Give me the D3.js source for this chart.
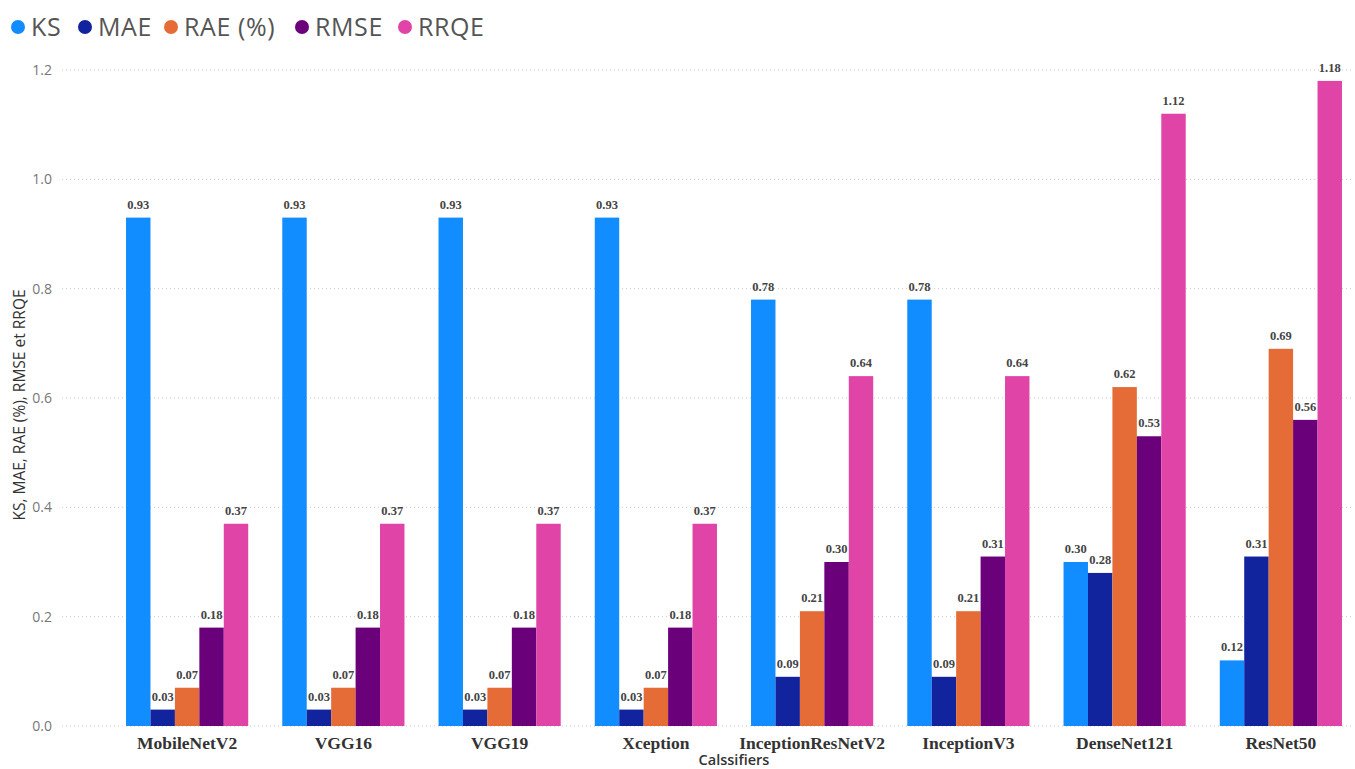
<!DOCTYPE html>
<html>
<head>
<meta charset="utf-8">
<script src="https://cdn.jsdelivr.net/npm/d3@7"></script>
<style>
  html, body { margin: 0; padding: 0; background: #fff; }
  svg { display: block; }
</style>
</head>
<body>
<svg id="chart" width="1355" height="769"></svg>
<script>
// Classifiers compared
const classifiers = ["MobileNetV2", "VGG16", "VGG19", "Xception", "InceptionResNetV2", "InceptionV3", "DenseNet121", "ResNet50"];

// Error metrics per classifier
const ks   = [0.93, 0.93, 0.93, 0.93, 0.78, 0.78, 0.30, 0.12];
const mae  = [0.03, 0.03, 0.03, 0.03, 0.09, 0.09, 0.28, 0.31];
const rae  = [0.07, 0.07, 0.07, 0.07, 0.21, 0.21, 0.62, 0.69];
const rmse = [0.18, 0.18, 0.18, 0.18, 0.30, 0.31, 0.53, 0.56];
const rrqe = [0.37, 0.37, 0.37, 0.37, 0.64, 0.64, 1.12, 1.18];

const seriesNames = ["KS", "MAE", "RAE (%)", "RMSE", "RRQE"];
const seriesColors = ["#118DFF", "#12239E", "#E66C37", "#6B007B", "#E044A7"];
const yTicks = [0.0, 0.2, 0.4, 0.6, 0.8, 1.0, 1.2];

const seriesValues = [ks, mae, rae, rmse, rrqe];

const svg = d3.select("#chart");
const margin = { left: 109, right: 1359, top: 70, bottom: 726 };

const x0 = d3.scaleBand()
  .domain(classifiers)
  .range([margin.left, margin.right])
  .paddingInner(0.218)
  .paddingOuter(0.109);

const x1 = d3.scaleBand()
  .domain(seriesNames)
  .range([0, x0.bandwidth()])
  .padding(0);

const y = d3.scaleLinear().domain([0, 1.2]).range([margin.bottom, margin.top]);

const color = d3.scaleOrdinal().domain(seriesNames).range(seriesColors);

// Gridlines
svg.append("g")
  .selectAll("line")
  .data(yTicks)
  .join("line")
  .attr("x1", 62)
  .attr("x2", 1352)
  .attr("y1", d => y(d))
  .attr("y2", d => y(d))
  .attr("stroke", "#c8c8c8")
  .attr("stroke-width", 1)
  .attr("stroke-dasharray", "1,3");

// Y axis tick labels
const yAxis = d3.axisLeft(y).tickValues(yTicks).tickFormat(d3.format(".1f")).tickSize(0).tickPadding(0);
const yg = svg.append("g").attr("transform", "translate(52,0)").call(yAxis);
yg.select(".domain").remove();
yg.selectAll("text")
  .attr("fill", "#777")
  .style("font-family", "'Open Sans', 'Noto Sans', sans-serif")
  .style("font-size", "14px");

// Y axis title
svg.append("text")
  .attr("transform", "translate(25,405) rotate(-90)")
  .attr("text-anchor", "middle")
  .attr("fill", "#333")
  .style("font-family", "'Open Sans', 'Noto Sans', sans-serif")
  .style("font-size", "15.5px")
  .text("KS, MAE, RAE (%), RMSE et RRQE");

// Bars
const groups = svg.append("g")
  .selectAll("g")
  .data(classifiers)
  .join("g")
  .attr("transform", d => `translate(${x0(d)},0)`);

const cells = groups.selectAll("g")
  .data((c, i) => seriesNames.map((s, j) => ({ series: s, value: seriesValues[j][i] })))
  .join("g");

cells.append("rect")
  .attr("x", d => x1(d.series))
  .attr("width", x1.bandwidth())
  .attr("y", d => y(d.value))
  .attr("height", d => y(0) - y(d.value))
  .attr("fill", d => color(d.series));

cells.append("text")
  .attr("x", d => x1(d.series) + x1.bandwidth() / 2)
  .attr("y", d => y(d.value) - 9)
  .attr("text-anchor", "middle")
  .attr("fill", "#444")
  .style("font-family", "'Liberation Serif', 'Times New Roman', serif")
  .style("font-weight", "bold")
  .style("font-size", "12.5px")
  .text(d => d3.format(".2f")(d.value));

// X axis category labels
const xAxis = d3.axisBottom(x0).tickSize(0).tickPadding(0);
const xg = svg.append("g").attr("transform", `translate(0,${margin.bottom + 23})`).call(xAxis);
xg.select(".domain").remove();
xg.selectAll("text")
  .attr("dy", 0)
  .attr("fill", "#333")
  .style("font-family", "'Liberation Serif', 'Times New Roman', serif")
  .style("font-weight", "bold")
  .style("font-size", "17.5px");

// X axis title
svg.append("text")
  .attr("x", (margin.left + margin.right) / 2)
  .attr("y", 765)
  .attr("text-anchor", "middle")
  .attr("fill", "#333")
  .style("font-family", "'Open Sans', 'Noto Sans', sans-serif")
  .style("font-weight", "600")
  .style("font-size", "14.5px")
  .text("Calssifiers");

// Legend
const legendX = [18, 85, 171, 302, 405];
const legend = svg.append("g")
  .selectAll("g")
  .data(seriesNames)
  .join("g")
  .attr("transform", (d, i) => `translate(${legendX[i]},27)`);

legend.append("circle")
  .attr("r", 7)
  .attr("fill", d => color(d));

legend.append("text")
  .attr("x", 13)
  .attr("y", 8.5)
  .attr("fill", "#555")
  .style("font-family", "'Open Sans', 'Noto Sans', sans-serif")
  .style("font-size", "25px")
  .style("letter-spacing", "0.6px")
  .text(d => d);
</script>
</body>
</html>
